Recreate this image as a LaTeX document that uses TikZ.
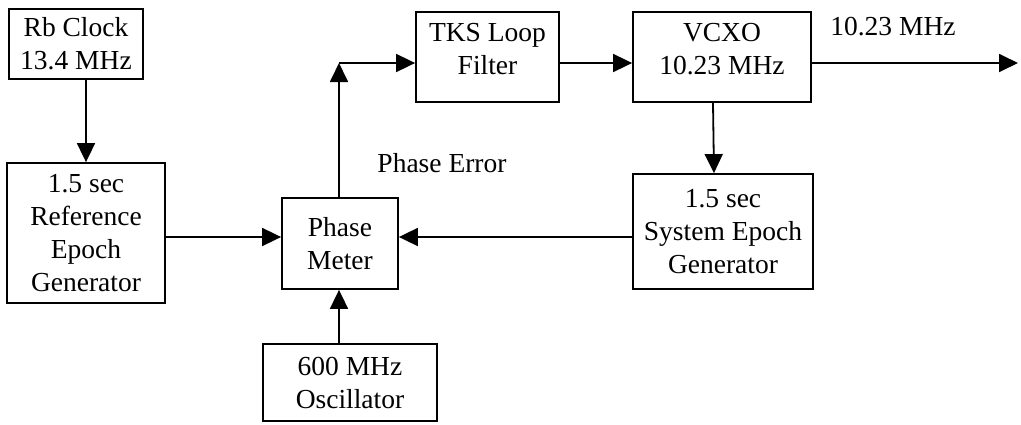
\documentclass[tikz,border=0pt]{standalone}
\usepackage{fontspec}
\setmainfont{Liberation Serif}
\usetikzlibrary{arrows.meta}
\newcommand{\lowpad}{\rule[-16pt]{0pt}{16pt}}
\begin{document}
\begin{tikzpicture}[x=1pt,y=-1pt,
  blk/.style={draw,line width=1.8pt,align=center,inner sep=0pt,
    font=\fontsize{27.5}{33}\selectfont},
  arr/.style={line width=1.8pt,-{Triangle[length=19pt,width=18pt]}},
  lbl/.style={font=\fontsize{27.5}{33}\selectfont,inner sep=0pt}]
\useasboundingbox (0,0) rectangle (1021,424);
\node[blk,minimum width=134pt,minimum height=70pt] (rb) at (76,44) {Rb Clock\\13.4 MHz};
\node[blk,minimum width=158pt,minimum height=140pt] (ref) at (86,233) {1.5 sec\\Reference\\Epoch\\Generator};
\node[blk,minimum width=116pt,minimum height=91pt] (pm) at (340,243.5) {Phase\\Meter};
\node[blk,minimum width=174pt,minimum height=77pt] (osc) at (350,382.5) {600 MHz\\Oscillator};
\node[blk,minimum width=143pt,minimum height=90pt] (tks) at (487.5,57) {TKS Loop\\Filter\lowpad};
\node[blk,minimum width=178pt,minimum height=90pt] (vcxo) at (722,57) {VCXO\\10.23 MHz\lowpad};
\node[blk,minimum width=180pt,minimum height=115pt] (sys) at (723,231.5) {1.5 sec\\System Epoch\\Generator};
\node[lbl] (pe) at (442,163) {Phase Error};
\node[lbl] (fo) at (893,27) {10.23 MHz};
\coordinate (ly) at (0,237);
\coordinate (c) at (339,63);
\coordinate (out) at (1018,63);
\draw[arr] (rb.south -| ref.north) -- (ref.north);
\draw[arr] (ref.east |- ly) -- (pm.west |- ly);
\draw[arr] (sys.west |- ly) -- (pm.east |- ly);
\draw[arr] (osc.north -| c) -- (pm.south -| c);
\draw[arr] (pm.north -| c) -- (c);
\draw[arr] (c) -- (tks.west |- c);
\draw[arr] (tks.east |- c) -- (vcxo.west |- c);
\draw[arr] (vcxo.east |- c) -- (out);
\draw[arr] ([xshift=-9pt]vcxo.south) -- ([xshift=-9pt]sys.north);
\end{tikzpicture}
\end{document}
